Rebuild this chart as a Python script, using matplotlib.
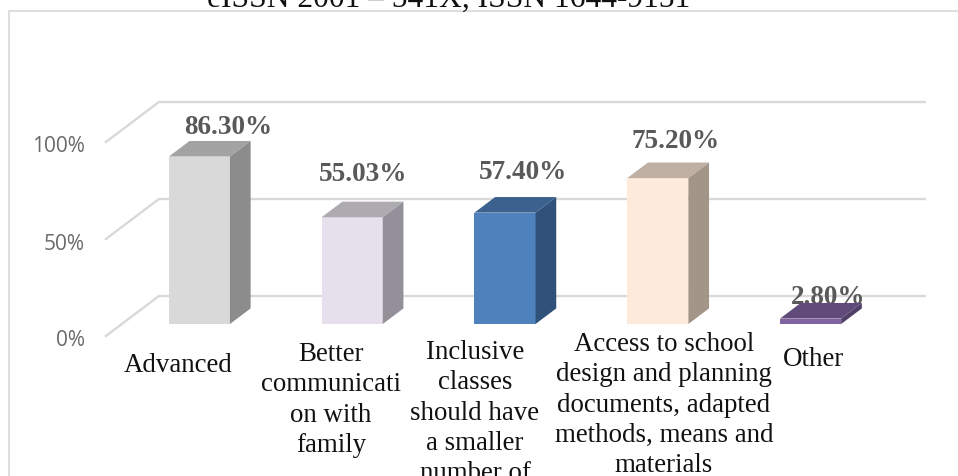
import matplotlib.pyplot as plt
from matplotlib.patches import Polygon

CATEGORIES = [
    "Advanced",
    "Better\ncommunicati\non with\nfamily",
    "Inclusive\nclasses\nshould have\na smaller\nnumber of",
    "Access to school\ndesign and planning\ndocuments, adapted\nmethods, means and\nmaterials",
    "Other",
]
VALUES = [86.30, 55.03, 57.40, 75.20, 2.80]
VALUE_LABELS = ["86.30%", "55.03%", "57.40%", "75.20%", "2.80%"]
Y_TICKS = [0, 50, 100]

FRONT_COLORS = ["#d9d9d9", "#e6e0ec", "#4f81bd", "#fdeada", "#8064a2"]
TOP_COLORS = ["#a3a3a3", "#adaab0", "#3b618e", "#bfb0a3", "#604b7a"]
SIDE_COLORS = ["#8c8c8c", "#93909a", "#30517a", "#a39588", "#503f66"]

W, H = 958, 476
BAR_WIDTH = 0.40
# how far the floor runs back, in data units per unit of depth
DEPTH_X = 0.347
DEPTH_Y = 20.6
BAR_FRONT = 0.30
BAR_BACK = 0.69
GRID_COLOR = "#d9d9d9"
TEXT_GREY = "#595959"
SERIF = "Liberation Serif"

# label offsets from the bar's top centre, in pixels
LABEL_DX = [29, 11, 18, 18, 18]
LABEL_DY = [29, 43, 40, 37, 21]


def project(x, y, depth):
    return (x + depth * DEPTH_X, y + (depth - BAR_FRONT) * DEPTH_Y)


def main() -> None:
    fig = plt.figure(figsize=(W / 100, H / 100), dpi=100)
    # axes span: x index -0.5..4.5 is 123..887 px, y 0..100 is 324..130 px
    ax = fig.add_axes([123 / W, (H - 324) / H, 764 / W, 194 / H])
    ax.set_xlim(-0.5, 4.5)
    ax.set_ylim(0, 100)
    ax.axis("off")

    # chart frame, runs off the right and bottom of the picture
    fig.add_artist(plt.Rectangle((9 / W, -0.05), 1.05, (H - 11) / H + 0.05,
                                 fill=False, edgecolor="#dedede", linewidth=1.5))

    x_left = -0.612
    x_right = 4.40
    for tick in Y_TICKS:
        front = project(x_left, tick, 0)
        back = project(x_left, tick, 1)
        back_right = project(x_right, tick, 1)
        ax.plot([front[0], back[0], back_right[0]], [front[1], back[1], back_right[1]],
                color=GRID_COLOR, linewidth=1.7, clip_on=False, zorder=1,
                solid_joinstyle="round")
        ax.annotate(f"{tick}%", xy=(front[0], tick), xycoords="data",
                    xytext=(-21, -17), textcoords="offset pixels",
                    ha="right", va="center", fontsize=15,
                    family="Open Sans", color="#6a6a6a", annotation_clip=False)

    positions = list(range(len(VALUES)))
    ax.bar(positions, VALUES, width=BAR_WIDTH, color=FRONT_COLORS, zorder=3, clip_on=False)

    for pos, value, top, side in zip(positions, VALUES, TOP_COLORS, SIDE_COLORS):
        x0 = pos - BAR_WIDTH / 2
        x1 = pos + BAR_WIDTH / 2
        depth = BAR_BACK - BAR_FRONT
        dx = depth * DEPTH_X
        dy = depth * DEPTH_Y
        ax.add_patch(Polygon([(x0, value), (x1, value), (x1 + dx, value + dy), (x0 + dx, value + dy)],
                             facecolor=top, edgecolor="none", zorder=3, clip_on=False))
        ax.add_patch(Polygon([(x1, 0), (x1 + dx, dy), (x1 + dx, value + dy), (x1, value)],
                             facecolor=side, edgecolor="none", zorder=3, clip_on=False))

    # zorder under the bars, the last label is partly hidden by its bar
    for pos, value, text, dx, dy in zip(positions, VALUES, VALUE_LABELS, LABEL_DX, LABEL_DY):
        ax.annotate(text, xy=(pos, value), xycoords="data", xytext=(dx, dy),
                    textcoords="offset pixels", ha="center", va="center", fontsize=19.6,
                    family=SERIF, weight="bold", color=TEXT_GREY, zorder=2,
                    annotation_clip=False)

    cat_x = [178, 331, 475, 664, 814]
    cat_top = [353, 342, 340, 332, 347]
    for text, x, y in zip(CATEGORIES, cat_x, cat_top):
        fig.text(x / W, (H - y) / H, text, ha="center", va="top", fontsize=19.4,
                 family=SERIF, color="#111111", linespacing=1.28)

    fig.text(449 / W, (H - 7) / H, "eISSN 2001 – 541X, ISSN 1644-9151", ha="center",
             va="baseline", fontsize=22.7, family=SERIF, color="#111111")

    fig.savefig("out.png", dpi=100)


if __name__ == "__main__":
    main()
